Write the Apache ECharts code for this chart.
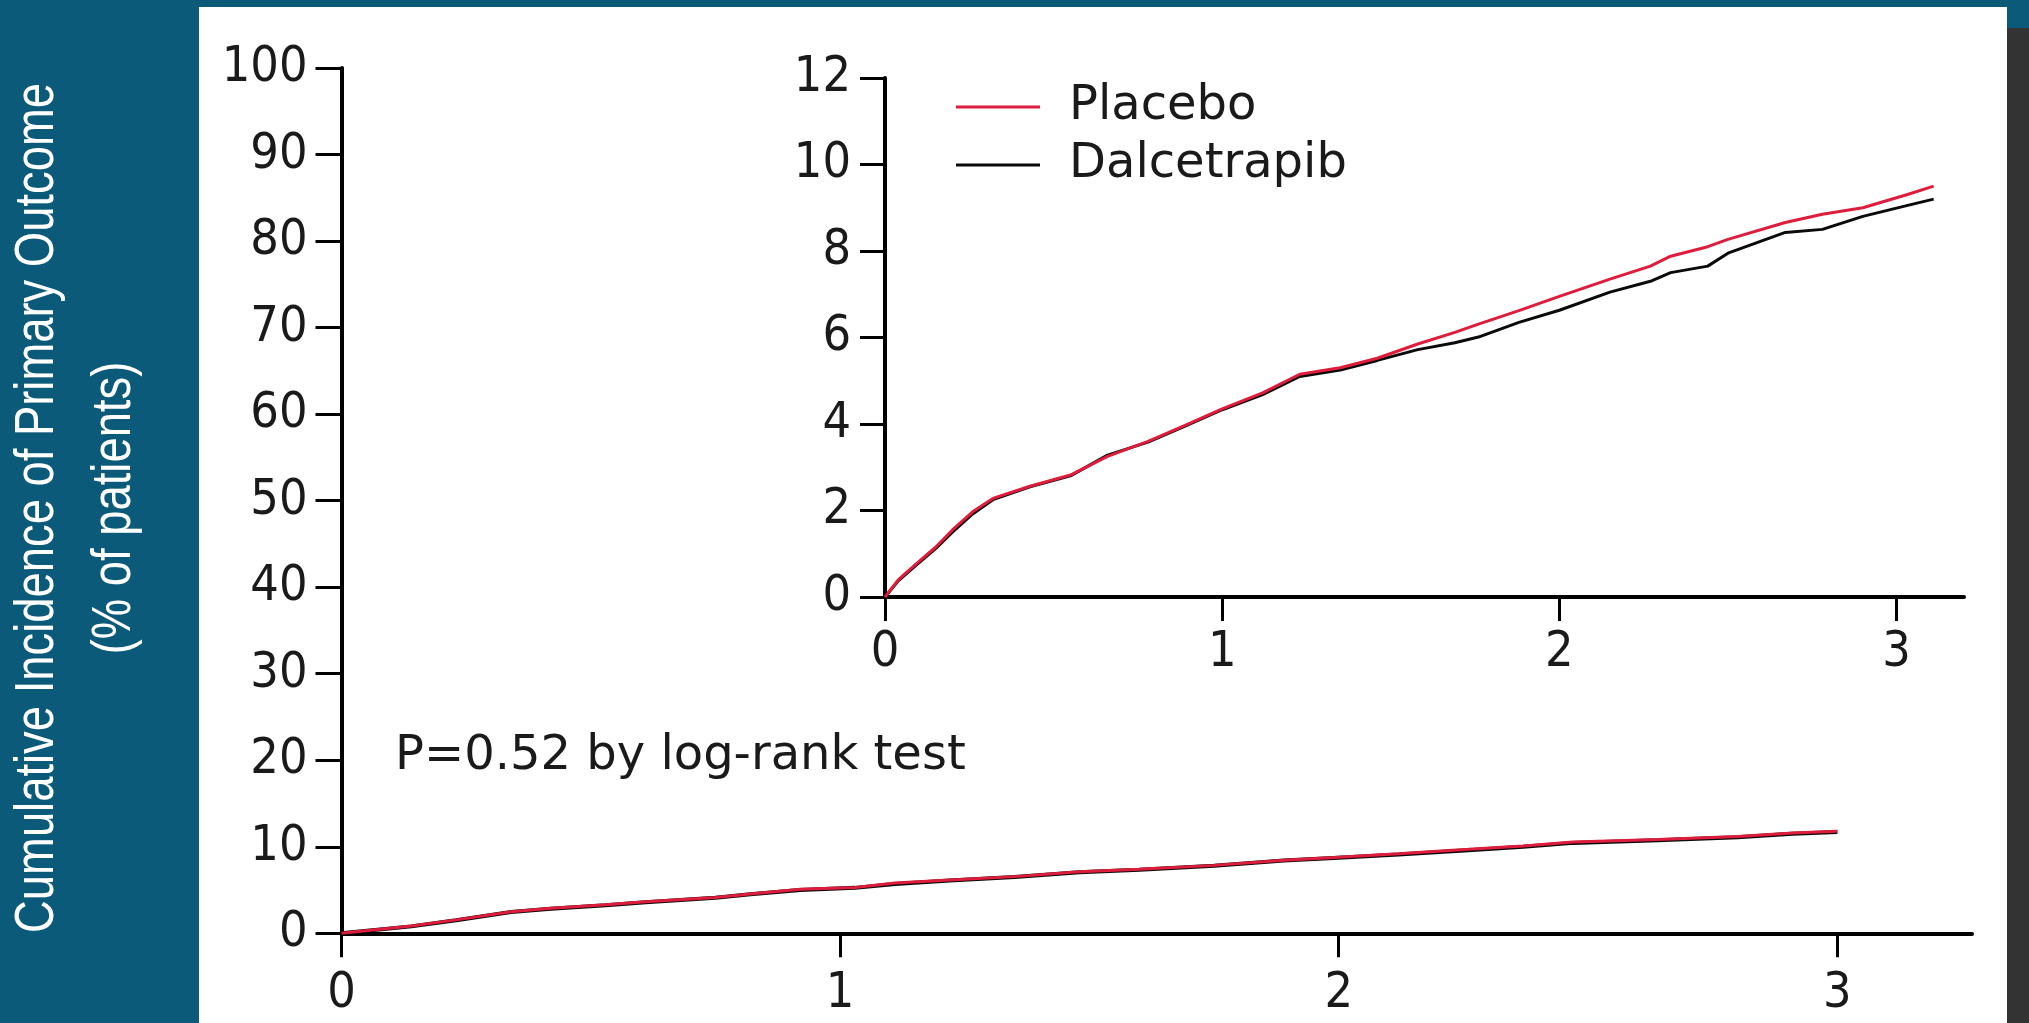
<!DOCTYPE html>
<html>
<head>
<meta charset="utf-8">
<script src="https://cdn.jsdelivr.net/npm/echarts@6/dist/echarts.min.js"></script>
<style>
  html, body { margin: 0; padding: 0; background: #0c5a7a; }
  #chart { width: 2029px; height: 1023px; }
</style>
</head>
<body>
<div id="chart"></div>
<script>
// ---- Data ----
const seriesNames = ['Placebo', 'Dalcetrapib'];

// Main panel (years, % of patients)
const mainTime        = [0, 0.14, 0.23, 0.34, 0.42, 0.53, 0.61, 0.75, 0.82, 0.92, 1.03, 1.11, 1.22, 1.35, 1.48, 1.6, 1.75, 1.89, 1.99, 2.12, 2.26, 2.37, 2.47, 2.64, 2.8, 2.91, 3.0];
const mainPlacebo     = [0, 0.85, 1.55, 2.5, 2.9, 3.3, 3.65, 4.15, 4.55, 5.1, 5.3, 5.8, 6.15, 6.55, 7.1, 7.4, 7.85, 8.45, 8.75, 9.2, 9.7, 10.1, 10.55, 10.85, 11.2, 11.6, 11.8];
const mainDalcetrapib = [0, 0.8, 1.5, 2.45, 2.85, 3.25, 3.6, 4.1, 4.5, 5.0, 5.25, 5.7, 6.1, 6.5, 7.05, 7.35, 7.8, 8.4, 8.7, 9.1, 9.6, 10.0, 10.45, 10.75, 11.1, 11.5, 11.7];

// Inset panel (zoomed y-axis)
const insetTime        = [0, 0.04, 0.09, 0.15, 0.2, 0.26, 0.32, 0.43, 0.55, 0.66, 0.78, 0.89, 1.0, 1.12, 1.23, 1.35, 1.46, 1.58, 1.69, 1.76, 1.88, 2.0, 2.15, 2.27, 2.33, 2.44, 2.5, 2.67, 2.78, 2.9, 3.03, 3.11];
const insetPlacebo     = [0, 0.4, 0.75, 1.15, 1.55, 1.97, 2.28, 2.56, 2.82, 3.25, 3.6, 3.97, 4.35, 4.72, 5.15, 5.3, 5.52, 5.85, 6.12, 6.31, 6.62, 6.95, 7.35, 7.65, 7.88, 8.1, 8.27, 8.66, 8.85, 9.0, 9.3, 9.5];
const insetDalcetrapib = [0, 0.38, 0.72, 1.12, 1.5, 1.92, 2.25, 2.55, 2.8, 3.28, 3.58, 3.95, 4.33, 4.68, 5.1, 5.25, 5.47, 5.72, 5.88, 6.01, 6.35, 6.63, 7.05, 7.3, 7.5, 7.65, 7.95, 8.43, 8.5, 8.8, 9.05, 9.2];

// Tick labels
const xTicks = [0, 1, 2, 3];
const mainYTicks = [0, 10, 20, 30, 40, 50, 60, 70, 80, 90, 100];
const insetYTicks = [0, 2, 4, 6, 8, 10, 12];

const yTitle = 'Cumulative Incidence of Primary Outcome\n(% of patients)';
const pText = 'P=0.52 by log-rank test';

// ---- Build ----
const zip = (xs, ys) => xs.map((x, i) => [x, ys[i]]);
const RED = '#de1c3c';
const BLACK = '#0a0a0a';
const LABEL = '#1a1a1a';
const TICKFONT = '"DejaVu Sans Condensed", "DejaVu Sans", sans-serif';

function xAxisCfg(grid, max, margin) {
  return {
    gridIndex: grid, type: 'value', min: 0, max: max,
    axisLine: { show: true, onZero: false, lineStyle: { color: '#000', width: 4 } },
    axisTick: { show: true, customValues: xTicks, inside: false, length: 24, lineStyle: { color: '#000', width: 3 } },
    axisLabel: { customValues: xTicks, margin: margin, color: LABEL, fontSize: 50, fontFamily: TICKFONT },
    splitLine: { show: false }
  };
}
function yAxisCfg(grid, max, interval, ticks, margin, tickLen) {
  return {
    gridIndex: grid, type: 'value', min: 0, max: max, interval: interval,
    axisLine: { show: true, onZero: false, lineStyle: { color: '#000', width: 4 } },
    axisTick: { show: true, customValues: ticks, length: tickLen, lineStyle: { color: '#000', width: 3 } },
    axisLabel: { customValues: ticks, margin: margin, color: LABEL, fontSize: 50, fontFamily: TICKFONT },
    splitLine: { show: false }
  };
}
function lineSeries(name, x, y, data, color, z, w) {
  return {
    name: name, type: 'line', xAxisIndex: x, yAxisIndex: y,
    data: data, showSymbol: false, symbol: 'none', smooth: false,
    lineStyle: { color: color, width: w }, itemStyle: { color: color },
    z: z, silent: true
  };
}

const chart = echarts.init(document.getElementById('chart'), null, { renderer: 'canvas' });
chart.setOption({
  animation: false,
  backgroundColor: '#0c5a7a',
  graphic: [
    { type: 'rect', z: -100, shape: { x: 199, y: 7, width: 1808, height: 1016 }, style: { fill: '#ffffff' } },
    { type: 'rect', z: -100, shape: { x: 2007, y: 28, width: 22, height: 995 }, style: { fill: '#333333' } },
    { type: 'text', z: 100, x: 76, y: 508, rotation: Math.PI / 2, scaleX: 0.825, scaleY: 1,
      style: { text: yTitle, fill: '#ffffff', fontSize: 55, lineHeight: 77,
               fontFamily: '"Liberation Sans", Arial, sans-serif',
               align: 'center', verticalAlign: 'middle' } },
    { type: 'text', z: 100, x: 395, y: 757,
      style: { text: pText, fill: LABEL, fontSize: 48, fontFamily: '"DejaVu Sans", sans-serif',
               align: 'left', verticalAlign: 'middle' } }
  ],
  legend: {
    orient: 'vertical', left: 951, top: 73,
    itemWidth: 84, itemHeight: 3, itemGap: 0, icon: 'rect',
    data: seriesNames, selectedMode: false,
    textStyle: { fontFamily: '"DejaVu Sans", sans-serif', fontSize: 48, color: LABEL, lineHeight: 58, padding: [0, 0, 0, 24] }
  },
  grid: [
    { left: 341.5, right: 57, top: 68, bottom: 89.7, containLabel: false },
    { left: 885, right: 65, top: 78, bottom: 426, containLabel: false }
  ],
  xAxis: [ xAxisCfg(0, 3.27, 36), xAxisCfg(1, 3.2, 31) ],
  yAxis: [ yAxisCfg(0, 100, 10, mainYTicks, 34, 26), yAxisCfg(1, 12, 2, insetYTicks, 34, 25) ],
  series: [
    lineSeries('Dalcetrapib', 0, 0, zip(mainTime, mainDalcetrapib), BLACK, 2, 4),
    lineSeries('Placebo', 0, 0, zip(mainTime, mainPlacebo), RED, 3, 3),
    lineSeries('Dalcetrapib', 1, 1, zip(insetTime, insetDalcetrapib), BLACK, 2, 3),
    lineSeries('Placebo', 1, 1, zip(insetTime, insetPlacebo), RED, 3, 3)
  ]
});
</script>
</body>
</html>
